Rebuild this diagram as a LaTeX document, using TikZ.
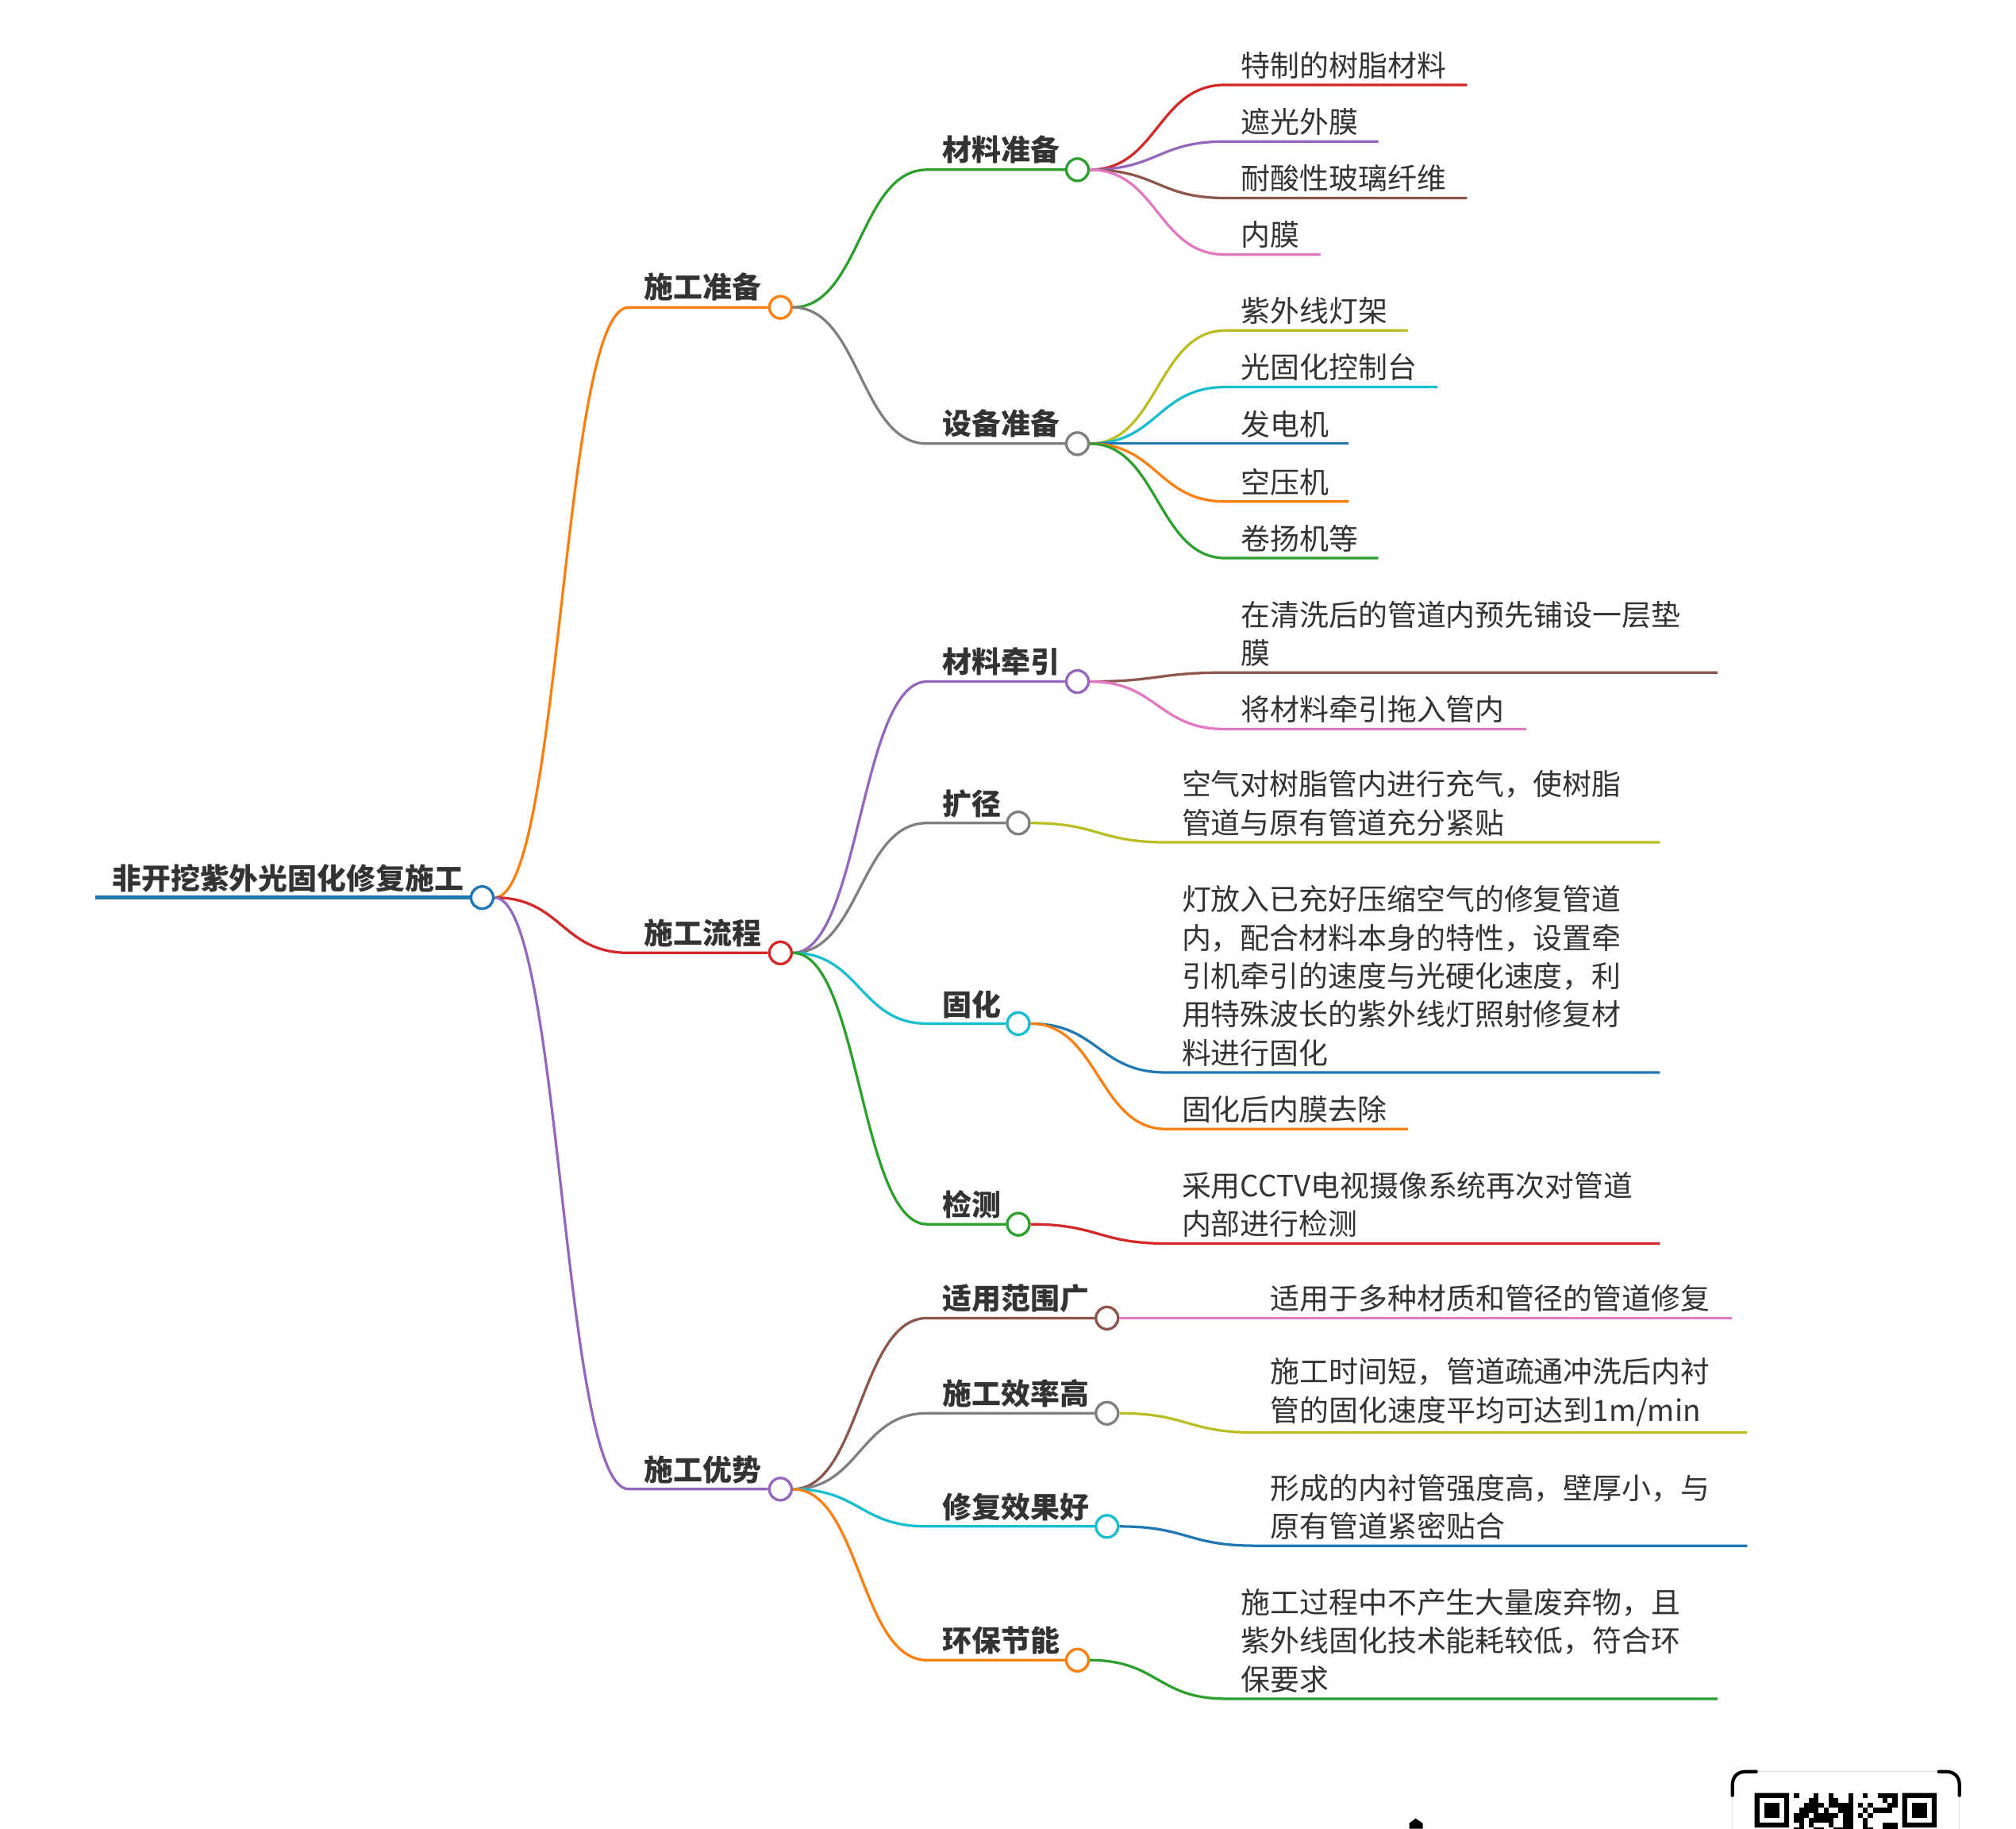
\documentclass[tikz,border=0pt]{standalone}
\usepackage{fontspec}
\setmainfont{Noto Sans CJK SC}
\usetikzlibrary{calc}
\definecolor{cblue}{HTML}{1F77B4}
\definecolor{corange}{HTML}{FF7F0E}
\definecolor{cgreen}{HTML}{2CA02C}
\definecolor{cred}{HTML}{D62728}
\definecolor{cpurple}{HTML}{9467BD}
\definecolor{cbrown}{HTML}{8C564B}
\definecolor{cpink}{HTML}{E377C2}
\definecolor{cgray}{HTML}{7F7F7F}
\definecolor{colive}{HTML}{BCBD22}
\definecolor{ccyan}{HTML}{17BECF}
\definecolor{ink}{HTML}{333333}
\tikzset{
  dot/.style={circle,draw=#1,fill=white,line width=1.9pt,minimum size=0.56cm,inner sep=0pt},
  conn/.style={line width=1.85pt,line cap=butt,line join=round},
  leaftext/.style={anchor=south west,inner sep=0pt,align=left,text=ink,font=\fontsize{21}{27.5}\selectfont},
  headtext/.style={anchor=south west,inner sep=0pt,text=ink,font=\fontsize{21}{27.5}\selectfont\bfseries},
  bracket/.style={line width=2.4pt,black,line cap=round},
  qrframe/.style={line width=0.5pt,black!12},
}
% parent dot, colour, start x of horizontal run, y, name
\newcommand\curveto[5]{%
  \coordinate (#5a) at (#3,#4);
  \coordinate (#5m) at ($(#1.east)!.5!(#5a)$);
  \draw[conn,#2] (#1.east) .. controls (#5m |- #1.east) and (#5m |- #5a) .. (#5a)}
% leaf: parent, colour, start x, y, end x, name, text x, text
\newcommand\leaf[8]{%
  \curveto{#1}{#2}{#3}{#4}{#6} -- (#5,#4);
  \node[leaftext] (#6t) at (#7,#4-4.6) {#8};}
\newcommand\brn[5]{\curveto{#1}{#2}{#3}{#4}{l#5} -- (#5.west);}
\begin{document}
\begin{tikzpicture}[x=0.0324cm,y=-0.0324cm]
\useasboundingbox (0,0) rectangle (1568,1422);
\fill[white] (0,0) rectangle (1568,1422);
\node[dot=cblue] (root) at (375,698) {};
\node[dot=corange] (a) at (607,239) {};
\node[dot=cred] (b) at (607,741) {};
\node[dot=cpurple] (c) at (607,1158) {};
\node[dot=cgreen] (a1) at (838,132) {};
\node[dot=cgray] (a2) at (838,345) {};
\node[dot=cpurple] (b1) at (838,530) {};
\node[dot=cgray] (b2) at (792,640) {};
\node[dot=ccyan] (b3) at (792,796) {};
\node[dot=cgreen] (b4) at (792,952) {};
\node[dot=cbrown] (c1) at (861,1025) {};
\node[dot=cgray] (c2) at (861,1099) {};
\node[dot=ccyan] (c3) at (861,1187) {};
\node[dot=corange] (c4) at (838,1291) {};
\coordinate (rootstart) at (74,698);
\draw[cblue,line width=2.9pt] (rootstart) -- (root.west);
\brn{root}{corange}{489}{239}{a}
\brn{root}{cred}{489}{741}{b}
\brn{root}{cpurple}{489}{1158}{c}
\brn{a}{cgreen}{721}{132}{a1}
\brn{a}{cgray}{721}{345}{a2}
\brn{b}{cpurple}{721}{530}{b1}
\brn{b}{cgray}{721}{640}{b2}
\brn{b}{ccyan}{721}{796}{b3}
\brn{b}{cgreen}{721}{952}{b4}
\brn{c}{cbrown}{721}{1025}{c1}
\brn{c}{cgray}{721}{1099}{c2}
\brn{c}{ccyan}{721}{1187}{c3}
\brn{c}{corange}{721}{1291}{c4}
\node[headtext] (roott) at (87,694) {非开挖紫外光固化修复施工};
\node[headtext] (at) at (501,234.5) {施工准备};
\node[headtext] (bt) at (501,736.5) {施工流程};
\node[headtext] (ct) at (501,1154) {施工优势};
\node[headtext] (a1t) at (733,127.5) {材料准备};
\node[headtext] (a2t) at (733,340.5) {设备准备};
\node[headtext] (b1t) at (733,525.5) {材料牵引};
\node[headtext] (b2t) at (733,636) {扩径};
\node[headtext] (b3t) at (733,792) {固化};
\node[headtext] (b4t) at (733,948) {检测};
\node[headtext] (c1t) at (733,1021) {适用范围广};
\node[headtext] (c2t) at (733,1095) {施工效率高};
\node[headtext] (c3t) at (733,1183) {修复效果好};
\node[headtext] (c4t) at (733,1287) {环保节能};
\leaf{a1}{cred}{953}{66}{1141}{p1}{965}{特制的树脂材料}
\leaf{a1}{cpurple}{953}{110}{1072}{p2}{965}{遮光外膜}
\leaf{a1}{cbrown}{953}{154}{1141}{p3}{965}{耐酸性玻璃纤维}
\leaf{a1}{cpink}{953}{198}{1027}{p4}{965}{内膜}
\leaf{a2}{colive}{953}{257}{1095}{q1}{965}{紫外线灯架}
\leaf{a2}{ccyan}{953}{301}{1118}{q2}{965}{光固化控制台}
\leaf{a2}{cblue}{953}{345}{1049}{q3}{965}{发电机}
\leaf{a2}{corange}{953}{390}{1049}{q4}{965}{空压机}
\leaf{a2}{cgreen}{953}{434}{1072}{q5}{965}{卷扬机等}
\leaf{b1}{cbrown}{953}{523}{1336}{r1}{965}{在清洗后的管道内预先铺设一层垫\\膜}
\leaf{b1}{cpink}{953}{567}{1187}{r2}{965}{将材料牵引拖入管内}
\leaf{b2}{colive}{907}{655}{1291}{s1}{919}{空气对树脂管内进行充气，使树脂\\管道与原有管道充分紧贴}
\leaf{b3}{cblue}{907}{834}{1291}{t1}{919}{灯放入已充好压缩空气的修复管道\\内，配合材料本身的特性，设置牵\\引机牵引的速度与光硬化速度，利\\用特殊波长的紫外线灯照射修复材\\料进行固化}
\leaf{b3}{corange}{907}{878}{1095}{t2}{919}{固化后内膜去除}
\leaf{b4}{cred}{907}{967}{1291}{u1}{919}{采用CCTV电视摄像系统再次对管道\\内部进行检测}
\leaf{c1}{cpink}{976}{1025}{1347}{v1}{988}{适用于多种材质和管径的管道修复}
\leaf{c2}{colive}{976}{1114}{1359}{v2}{988}{施工时间短，管道疏通冲洗后内衬\\管的固化速度平均可达到1m/min}
\leaf{c3}{cblue}{976}{1202}{1359}{v3}{988}{形成的内衬管强度高，壁厚小，与\\原有管道紧密贴合}
\leaf{c4}{cgreen}{953}{1321}{1336}{v4}{965}{施工过程中不产生大量废弃物，且\\紫外线固化技术能耗较低，符合环\\保要求}
% cut-off QR block and mark at the bottom edge (full-size pixel coordinates)
\begin{scope}[x=0.02cm,y=-0.02cm]
\clip (0,0) rectangle (2540,2303);
\fill[black] (1775,2303) -- (1775,2296) -- (1783,2290) -- (1792,2296) -- (1792,2303) -- cycle;
\draw[qrframe] (2213,2231) -- (2441,2231);
\draw[qrframe] (2182,2262) -- (2182,2303);
\draw[qrframe] (2468,2262) -- (2468,2303);
\draw[bracket] (2182,2261) -- (2182,2248) .. controls (2182,2237) and (2189,2231) .. (2199,2231) -- (2212,2231);
\draw[bracket] (2442,2231) -- (2451,2231) .. controls (2461,2231) and (2468,2237) .. (2468,2248) -- (2468,2261);
\begin{scope}[shift={(2210,2258)},x=0.124cm,y=-0.124cm]
\foreach \cx in {0,30}{
  \fill[black,even odd rule] (\cx,0) rectangle (\cx+7,7) (\cx+1,1) rectangle (\cx+6,6);
  \fill[black] (\cx+2,2) rectangle (\cx+5,5);
}
\foreach \r/\a/\b in {0/8/9,0/12/13,0/15/16,0/19/20,0/22/23,0/25/29,
  1/11/13,1/15/17,1/19/20,1/26/27,1/28/29,
  2/10/14,2/15/20,2/21/22,2/23/24,2/27/29,
  3/9/13,3/14/15,3/17/20,3/22/23,3/24/28,
  4/8/11,4/12/17,4/18/20,4/21/22,4/23/24,
  5/8/10,5/11/16,5/18/20,5/22/23,
  6/9/10,6/11/12,6/15/16,6/18/20,6/22/23,6/26/29,
  7/8/10,7/12/14,7/16/20,7/22/24,7/26/29}{
  \fill[black] (\a,\r) rectangle (\b,\r+1);
}
\end{scope}
\end{scope}
\end{tikzpicture}
\end{document}
